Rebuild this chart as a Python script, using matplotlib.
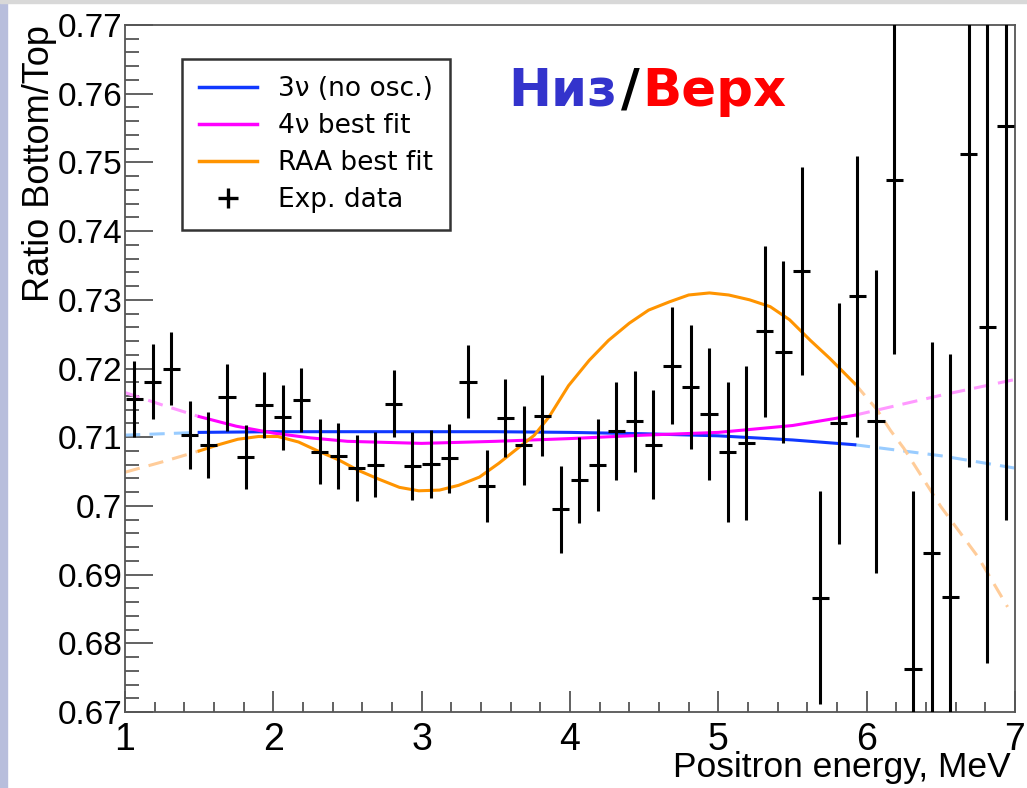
import numpy as np
import matplotlib
matplotlib.use('Agg')
import matplotlib.pyplot as plt
from matplotlib.patches import Rectangle
from matplotlib.lines import Line2D
from matplotlib.ticker import MultipleLocator, FixedLocator, FixedFormatter

plt.rcParams['font.family'] = ['Liberation Sans', 'DejaVu Sans']

# experimental points: bin centres, ratio, error
energy = [1.0625 + 0.125 * i for i in range(48)]
ratio = [0.7156, 0.7181, 0.7200, 0.7103, 0.7089, 0.7158, 0.7071, 0.7147,
         0.7129, 0.7154, 0.7079, 0.7072, 0.7055, 0.7060, 0.7149, 0.7058,
         0.7061, 0.7069, 0.7181, 0.7029, 0.7128, 0.7088, 0.7131, 0.6995,
         0.7038, 0.7059, 0.7109, 0.7123, 0.7089, 0.7204, 0.7173, 0.7134,
         0.7079, 0.7091, 0.7254, 0.7224, 0.7342, 0.6866, 0.7120, 0.7305,
         0.7123, 0.7474, 0.6762, 0.6931, 0.6868, 0.7512, 0.7260, 0.7553]
ratio_err = [0.0055, 0.0055, 0.0053, 0.0050, 0.0048, 0.0049, 0.0047, 0.0048,
             0.0047, 0.0047, 0.0047, 0.0048, 0.0048, 0.0047, 0.0049, 0.0049,
             0.0050, 0.0050, 0.0053, 0.0052, 0.0057, 0.0057, 0.0059, 0.0063,
             0.0063, 0.0067, 0.0071, 0.0074, 0.0079, 0.0085, 0.0090, 0.0096,
             0.0102, 0.0112, 0.0124, 0.0133, 0.0151, 0.0155, 0.0176, 0.0204,
             0.0220, 0.0253, 0.0260, 0.0307, 0.0353, 0.0456, 0.0489, 0.0574]

# model curves
E_3nu = [1.0, 1.5, 2.0, 2.5, 3.0, 3.5, 4.0, 4.5, 5.0, 5.5, 5.92, 6.5, 7.0]
R_3nu = [0.7103, 0.7107, 0.7108, 0.7108, 0.7108, 0.7108, 0.7107, 0.7105,
         0.7102, 0.7096, 0.7089, 0.7073, 0.7055]

E_4nu = [1.0, 1.25, 1.5, 1.75, 2.0, 2.25, 2.5, 3.0, 3.5, 4.0, 4.5, 5.0,
         5.5, 5.92, 6.5, 7.0]
R_4nu = [0.7165, 0.7147, 0.7130, 0.7116, 0.7106, 0.7099, 0.7094, 0.7091,
         0.7094, 0.7098, 0.7103, 0.7107, 0.7117, 0.7132, 0.7161, 0.7184]

E_raa = [1.0, 1.25, 1.5, 1.63, 1.76, 1.9, 2.03, 2.17, 2.3, 2.44, 2.57, 2.71,
         2.85, 2.98, 3.12, 3.25, 3.39, 3.52, 3.66, 3.76, 3.86, 3.99, 4.13,
         4.26, 4.4, 4.53, 4.67, 4.8, 4.94, 5.07, 5.21, 5.35, 5.48, 5.62,
         5.75, 5.92, 6.07, 6.16, 6.25, 6.5, 6.75, 6.95]
R_raa = [0.7049, 0.7064, 0.7080, 0.7089, 0.7097, 0.7101, 0.7101, 0.7093,
         0.7080, 0.7067, 0.7052, 0.7039, 0.7027, 0.7022, 0.7023, 0.7030,
         0.7042, 0.7062, 0.7086, 0.7103, 0.7130, 0.7175, 0.7212, 0.7241,
         0.7266, 0.7285, 0.7297, 0.7307, 0.7310, 0.7307, 0.7300, 0.7290,
         0.7271, 0.7241, 0.7215, 0.7178, 0.7140, 0.7110, 0.7084, 0.6999,
         0.6926, 0.6853]

fit_lo, fit_hi = 1.5, 5.92

fig = plt.figure(figsize=(10.27, 7.88), dpi=100)
fig.patches.append(Rectangle((0, 0), 7 / 1027, 1, transform=fig.transFigure,
                             color='#b8bedc', zorder=0))
fig.patches.append(Rectangle((0, 1 - 3 / 788), 1, 3 / 788, transform=fig.transFigure,
                             color='#d8d8d8', zorder=0))

ax = fig.add_axes([125 / 1027, 76 / 788, 890 / 1027, 687 / 788])


def draw_curve(E, R, col, light):
    E = np.array(E)
    R = np.array(R)
    m = (E >= fit_lo) & (E <= fit_hi)
    lo = E <= fit_lo
    hi = E >= fit_hi
    ax.plot(E[lo], R[lo], color=light, lw=2.2, ls=(0, (5, 3)))
    ax.plot(E[hi], R[hi], color=light, lw=2.2, ls=(0, (5, 3)))
    ax.plot(E[m], R[m], color=col, lw=2.2)


draw_curve(E_3nu, R_3nu, '#1038ff', '#99ccff')
draw_curve(E_4nu, R_4nu, '#ff00ff', '#ff99ff')
draw_curve(E_raa, R_raa, '#ff9400', '#ffcc99')

ax.errorbar(energy, ratio, yerr=ratio_err, xerr=0.058, fmt='none',
            ecolor='black', elinewidth=2.2, capsize=0, zorder=5)

ax.set_xlim(1, 7)
ax.set_ylim(0.67, 0.77)
ax.xaxis.set_major_locator(MultipleLocator(1))
ax.xaxis.set_minor_locator(MultipleLocator(0.2))
yt = [0.67, 0.68, 0.69, 0.70, 0.71, 0.72, 0.73, 0.74, 0.75, 0.76, 0.77]
ax.yaxis.set_major_locator(FixedLocator(yt))
ax.yaxis.set_major_formatter(FixedFormatter(['0.67', '0.68', '0.69', '0.7', '0.71', '0.72',
                                             '0.73', '0.74', '0.75', '0.76', '0.77']))
ax.yaxis.set_minor_locator(MultipleLocator(0.002))
ax.tick_params(which='both', direction='in', colors='#555555', labelcolor='black',
               width=1.3)
ax.tick_params(axis='x', which='major', length=15, pad=7, labelsize=27)
ax.tick_params(axis='x', which='minor', length=7)
ax.tick_params(axis='y', which='major', length=20, pad=2, labelsize=24)
ax.tick_params(axis='y', which='minor', length=10)
for s in ax.spines.values():
    s.set_color('#555555')
    s.set_linewidth(1.3)

ax.set_ylabel('Ratio Bottom/Top', fontsize=26, loc='top', labelpad=0)
ax.set_xlabel('Positron energy, MeV', fontsize=25.5, loc='right', va='baseline')
ax.xaxis.set_label_coords(0.995, -0.094)

handles = [Line2D([], [], color='#1038ff', lw=2.5),
           Line2D([], [], color='#ff00ff', lw=2.5),
           Line2D([], [], color='#ff9400', lw=2.5),
           Line2D([], [], color='black', marker='+', ls='none', markersize=15, mew=2.4)]
labels = ['3ν (no osc.)', '4ν best fit', 'RAA best fit', 'Exp. data']
leg = ax.legend(handles, labels, loc='upper left', bbox_to_anchor=(0.064, 0.951),
                prop={'family': 'DejaVu Sans', 'size': 19},
                frameon=True, fancybox=False, edgecolor='black',
                handlelength=2.2, handletextpad=0.8, labelspacing=0.42,
                borderpad=0.65, borderaxespad=0)
leg.get_frame().set_linewidth(1.8)

tkw = dict(fontsize=37, fontweight='bold', family='DejaVu Sans', va='center')
fig.text(508 / 1027, 1 - 92 / 788, 'Низ', color='#3333cc', ha='left', **tkw)
fig.text(630 / 1027, 1 - 92 / 788, '/', color='black', ha='center', **tkw)
fig.text(642 / 1027, 1 - 92 / 788, 'Верх', color='#ff0000', ha='left', **tkw)

fig.savefig('out.png', dpi=100)
